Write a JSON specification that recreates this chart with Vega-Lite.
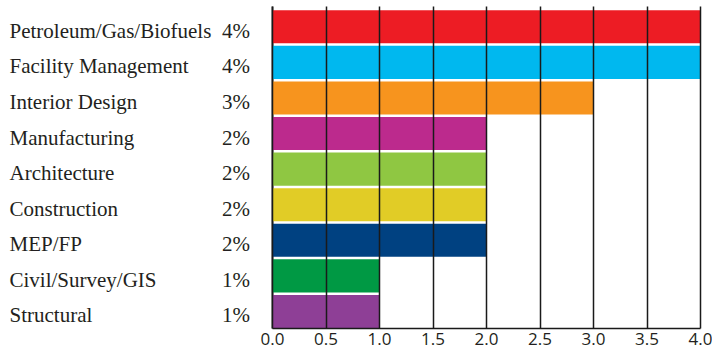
{
  "$schema": "https://vega.github.io/schema/vega-lite/v6.json",
  "width": 428,
  "height": 322,
  "autosize": {"type": "none"},
  "padding": {"left": 272, "top": 6, "right": 12, "bottom": 22},
  "background": "white",
  "config": {"view": {"stroke": null}},
  "data": {
    "values": [
      {"sector": "Petroleum/Gas/Biofuels", "share": 4, "color": "#ED1C24"},
      {"sector": "Facility Management", "share": 4, "color": "#00B8EF"},
      {"sector": "Interior Design", "share": 3, "color": "#F7941E"},
      {"sector": "Manufacturing", "share": 2, "color": "#BC2A8D"},
      {"sector": "Architecture", "share": 2, "color": "#8FC742"},
      {"sector": "Construction", "share": 2, "color": "#E1CC26"},
      {"sector": "MEP/FP", "share": 2, "color": "#004181"},
      {"sector": "Civil/Survey/GIS", "share": 1, "color": "#009944"},
      {"sector": "Structural", "share": 1, "color": "#8E3F96"}
    ]
  },
  "transform": [{"calculate": "datum.share + '%'", "as": "pct"}],
  "encoding": {
    "y": {
      "field": "sector",
      "type": "nominal",
      "sort": null,
      "scale": {"paddingInner": 0.07, "paddingOuter": 0.06, "align": 1},
      "axis": {
        "title": null,
        "ticks": false,
        "labelAlign": "left",
        "labelBaseline": "alphabetic",
        "labelOffset": 11,
        "labelPadding": 263,
        "labelFont": "Liberation Serif",
        "labelFontSize": 21,
        "labelColor": "#231F20",
        "labelLimit": 260,
        "domainColor": "#444444",
        "domainWidth": 2
      }
    }
  },
  "layer": [
    {
      "mark": {"type": "bar", "cornerRadius": 0},
      "encoding": {
        "x": {
          "field": "share",
          "type": "quantitative",
          "scale": {"domain": [0, 4], "nice": false},
          "axis": {
            "title": null,
            "values": [0, 0.5, 1, 1.5, 2, 2.5, 3, 3.5, 4],
            "format": ".1f",
            "grid": true,
            "gridColor": "#1a1a1a",
            "gridWidth": 1.5,
            "gridOpacity": 1,
            "zindex": 1,
            "ticks": false,
            "domainColor": "#1a1a1a",
            "domainWidth": 1.5,
            "labelFont": "Open Sans",
            "labelFontSize": 17,
            "labelColor": "#231F20",
            "labelPadding": 3,
            "labelFlush": false
          }
        },
        "color": {"field": "color", "type": "nominal", "scale": null, "legend": null}
      }
    },
    {
      "mark": {"type": "text", "align": "right", "baseline": "alphabetic", "dx": -22, "dy": 11, "font": "Liberation Serif", "fontSize": 21, "color": "#231F20"},
      "encoding": {
        "x": {"datum": 0, "type": "quantitative"},
        "text": {"field": "pct", "type": "nominal"}
      }
    }
  ]
}
